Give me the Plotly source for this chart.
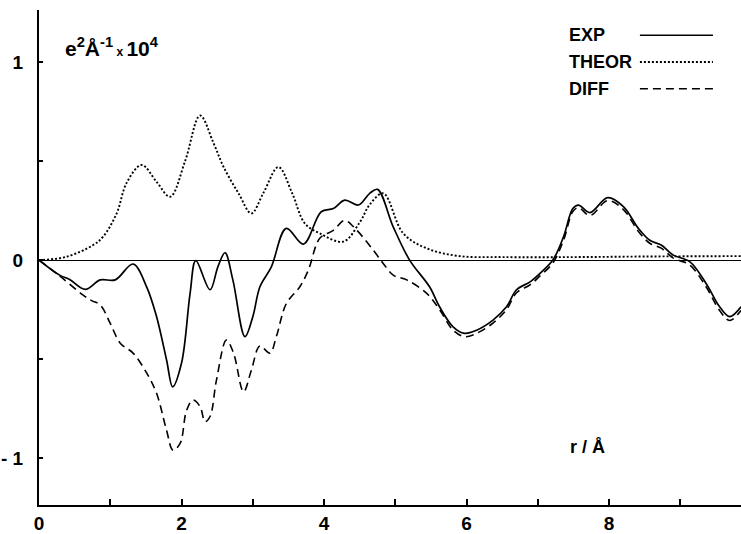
import plotly.graph_objects as go

# ---- data ----
exp_x = [0, 0.29, 0.43, 0.65, 0.86, 1.07, 1.32, 1.51, 1.65, 1.79, 1.875, 2.0, 2.12, 2.2,
         2.4, 2.51, 2.61, 2.72, 2.89, 3.0, 3.1, 3.26, 3.47, 3.71, 3.96, 4.13, 4.29, 4.48,
         4.64, 4.75, 4.97, 5.2, 5.48, 5.62, 5.81, 5.97, 6.14, 6.37, 6.56, 6.7, 6.89, 7.03,
         7.21, 7.36, 7.49, 7.57, 7.73, 7.98, 8.2, 8.41, 8.57, 8.73, 8.9, 9.13, 9.36, 9.55,
         9.69, 9.85]
exp_y = [0, -0.076, -0.098, -0.148, -0.10, -0.10, -0.02, -0.135, -0.286, -0.505, -0.64, -0.52,
         -0.168, -0.003, -0.15, -0.034, 0.037, -0.1, -0.387, -0.286, -0.135, -0.034, 0.16,
         0.081, 0.244, 0.26, 0.303, 0.278, 0.337, 0.357, 0.168, 0.0, -0.135, -0.236, -0.337,
         -0.37, -0.354, -0.303, -0.236, -0.15, -0.11, -0.067, 0.0, 0.118, 0.26, 0.278, 0.24,
         0.315, 0.27, 0.16, 0.1, 0.076, 0.025, -0.008, -0.118, -0.236, -0.286, -0.236]

theor_x = [0, 0.39, 0.76, 0.9, 1.09, 1.23, 1.44, 1.65, 1.84, 2.05, 2.26, 2.45, 2.59, 2.8,
           2.98, 3.15, 3.36, 3.55, 3.73, 3.94, 4.27, 4.5, 4.64, 4.83, 5.11, 5.44, 5.9, 6.5,
           7.5, 8.5, 9.85]
theor_y = [0, 0.017, 0.076, 0.118, 0.236, 0.39, 0.48, 0.395, 0.32, 0.5, 0.73, 0.59, 0.47,
           0.337, 0.236, 0.34, 0.47, 0.34, 0.185, 0.135, 0.093, 0.19, 0.28, 0.337, 0.135,
           0.059, 0.02, 0.015, 0.015, 0.018, 0.02]

diff_x = [0, 0.29, 0.62, 0.74, 0.86, 1.0, 1.14, 1.32, 1.51, 1.65, 1.79, 1.88, 1.98, 2.07,
          2.16, 2.26, 2.33, 2.4, 2.49, 2.63, 2.73, 2.87, 2.98, 3.1, 3.24, 3.33, 3.47, 3.66,
          3.78, 3.94, 4.13, 4.29, 4.46, 4.69, 4.83, 4.97, 5.16, 5.44, 5.62, 5.81, 5.97, 6.14,
          6.37, 6.56, 6.7, 6.89, 7.03, 7.21, 7.36, 7.49, 7.57, 7.73, 7.98, 8.2, 8.41, 8.57,
          8.73, 8.9, 9.13, 9.36, 9.55, 9.69, 9.85]
diff_y = [0, -0.08, -0.177, -0.205, -0.227, -0.32, -0.42, -0.47, -0.57, -0.673, -0.86, -0.96,
          -0.926, -0.76, -0.707, -0.74, -0.816, -0.79, -0.606, -0.404, -0.47, -0.665, -0.556,
          -0.434, -0.47, -0.387, -0.22, -0.135, -0.05, 0.11, 0.15, 0.2, 0.15, 0.05, -0.017,
          -0.076, -0.1, -0.168, -0.25, -0.354, -0.387, -0.37, -0.318, -0.25, -0.165, -0.125,
          -0.08, -0.015, 0.1, 0.245, 0.265, 0.225, 0.3, 0.255, 0.145, 0.085, 0.06, 0.01,
          -0.025, -0.135, -0.255, -0.305, -0.255]

x_major = [0, 2, 4, 6, 8]
x_minor = [1, 3, 5, 7, 9]
y_major = [-1, 0, 1]
y_labels = ["- 1", "0", "1"]
y_minor = [-0.5, 0.5]
legend_names = ["EXP", "THEOR", "DIFF"]
legend_dash = ["solid", "2px,2px", "8px,5px"]

FONT = "Liberation Sans, Arial, sans-serif"

fig = go.Figure()
for xs, ys, name, dash, w in [(theor_x, theor_y, "THEOR", "2px,2px", 1.9),
                              (diff_x, diff_y, "DIFF", "8px,5px", 1.6),
                              (exp_x, exp_y, "EXP", "solid", 1.7)]:
    fig.add_trace(go.Scatter(x=xs, y=ys, mode="lines", name=name,
                             line=dict(color="black", width=w, dash=dash,
                                       shape="spline", smoothing=1.0),
                             showlegend=False))

# custom legend: text left, line sample right
leg_y = [0.949, 0.895, 0.841]
leg_w = [1.7, 1.9, 1.6]
for name, dash, yy, w in zip(legend_names, legend_dash, leg_y, leg_w):
    fig.add_annotation(xref="paper", yref="paper", x=0.752, y=yy, text=name,
                       showarrow=False, xanchor="left", yanchor="middle",
                       font=dict(family=FONT, size=18, color="black", weight="bold"))
    fig.add_shape(type="line", xref="paper", yref="paper", x0=0.856, x1=0.96, y0=yy, y1=yy,
                  line=dict(color="black", width=w, dash=dash))

fig.add_annotation(xref="paper", yref="paper", x=0.034, y=0.925,
                   text="e<sup>2</sup>Å<sup>-1</sup><span style='font-size:12px'> x </span>10<sup>4</sup>",
                   showarrow=False, xanchor="left", yanchor="middle",
                   font=dict(family=FONT, size=21, color="black", weight="bold"))
fig.add_annotation(xref="paper", yref="paper", x=0.782, y=0.117, text="r / Å",
                   showarrow=False, xanchor="center", yanchor="middle",
                   font=dict(family=FONT, size=18, color="black", weight="bold"))

tick_font = dict(family=FONT, size=19, color="black", weight="bold")
fig.update_layout(
    width=741, height=534,
    margin=dict(l=39, r=0, t=10, b=29),
    paper_bgcolor="white", plot_bgcolor="white",
    xaxis=dict(range=[0, 9.85], tickvals=x_major,
               ticks="inside", ticklen=6, tickwidth=1.5, tickcolor="black",
               minor=dict(tickvals=x_minor, ticks="inside", ticklen=6, tickwidth=1.5,
                          tickcolor="black", showgrid=False),
               showline=True, linecolor="black", linewidth=2, mirror=False,
               showgrid=False, zeroline=False, tickfont=tick_font),
    yaxis=dict(range=[-1.237, 1.263], tickvals=y_major, ticktext=y_labels,
               ticks="inside", ticklen=4, tickwidth=1.5, tickcolor="black",
               minor=dict(tickvals=y_minor, ticks="inside", ticklen=4, tickwidth=1.5,
                          tickcolor="black", showgrid=False),
               showline=True, linecolor="black", linewidth=2, mirror=False,
               showgrid=False, zeroline=True, zerolinecolor="black", zerolinewidth=1.3,
               ticklabelstandoff=10, tickfont=tick_font),
)

fig.write_html("out.html")
